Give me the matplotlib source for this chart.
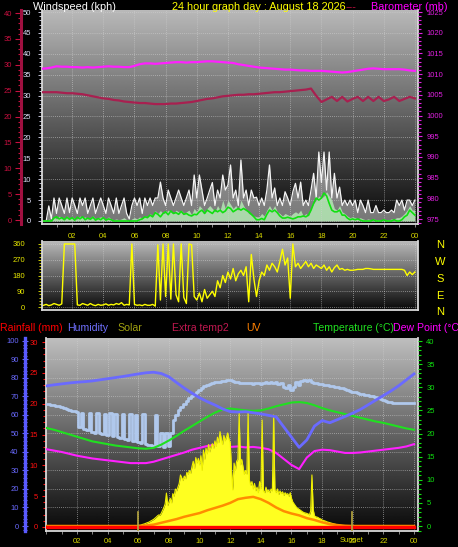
import numpy as np
import matplotlib
matplotlib.use("Agg")
import matplotlib.pyplot as plt
from matplotlib.ticker import MultipleLocator

plt.rcParams['font.family'] = ['Liberation Sans', 'DejaVu Sans']

W, H = 458, 547

# ---------------- data ----------------
# wind, 10 minute samples 00:00 .. 24:00 (kph)
wind_gust = [
    0, 0, 0, 3.6, 0.5, 5.5,  1.8, 5.5, 3.7, 1.8, 5.5, 2.0,
    5.5, 3.7, 1.8, 5.5, 3.7, 5.5,  1.8, 3.7, 5.5, 1.8, 3.7, 5.5,
    3.7, 1.8, 5.5, 3.7, 1.8, 5.5,  1.8, 3.7, 5.5, 1.8, 0.5, 3.7,
    5.5, 3.7, 5.5, 1.8, 5.5, 3.7,  5.5, 3.7, 5.5, 5.5, 9.3, 5.5,
    3.7, 7.4, 5.5, 3.7, 5.5, 7.4,  5.5, 3.7, 5.5, 7.4, 3.7, 11.0,
    5.5, 11.0, 7.4, 3.7, 5.5, 7.4,  9.2, 3.7, 7.4, 5.5, 11.0, 7.4,
    8.6, 13.4, 5.5, 7.4, 3.7, 14.6,  5.5, 7.4, 3.7, 7.4, 5.5, 5.7,
    3.7, 5.5, 3.7, 7.4, 13.4, 5.5,  7.9, 3.7, 5.5, 3.7, 7.0, 5.5,
    3.7, 7.0, 9.0, 5.5, 9.3, 3.7,  5.0, 3.7, 7.4, 11.4, 5.5, 16.5,
    9.2, 16.5, 7.4, 16.5, 5.5, 11.4,  5.5, 8.1, 3.7, 5.0, 3.7, 5.0,
    3.7, 5.0, 2.0, 5.0, 3.7, 2.0,  5.0, 2.0, 2.0, 3.7, 2.0, 2.0,
    2.6, 2.0, 2.0, 2.6, 2.0, 5.0,  3.7, 5.0, 2.6, 5.0, 5.0, 3.7,
    5.0]
wind_speed = [
    0, 0, 0, 0.5, 0, 1.0,  0.5, 1.2, 0.8, 0.5, 1.2, 0.5,
    1.0, 0.5, 0.5, 1.2, 0.8, 1.0,  0.5, 0.8, 1.2, 0.5, 0.8, 1.0,
    0.8, 0.5, 1.0, 0.5, 0.3, 0.5,  0.3, 0.5, 0.8, 0.3, 0, 0.5,
    0.8, 0.5, 1.0, 0.5, 1.2, 1.0,  1.8, 1.2, 2.5, 1.8, 2.5, 1.8,
    2.0, 2.6, 2.2, 1.8, 2.6, 2.2,  2.6, 1.8, 2.2, 2.6, 1.5, 3.0,
    2.2, 3.7, 3.0, 1.8, 3.0, 3.7,  3.0, 2.2, 3.7, 2.6, 5.0, 3.0,
    5.0, 4.0, 3.0, 3.7, 2.6, 5.0,  3.7, 2.6, 1.8, 1.5, 1.2, 1.0,
    1.0, 1.8, 1.2, 2.6, 3.7, 2.6,  3.7, 2.2, 1.8, 1.2, 1.8, 1.5,
    1.2, 1.8, 2.2, 1.8, 2.6, 1.2,  1.8, 1.2, 3.0, 4.2, 5.0, 6.0,
    5.5, 6.0, 7.0, 6.0, 5.0, 3.0,  2.6, 3.7, 2.2, 1.8, 1.2, 0.8,
    1.0, 0.8, 0.5, 0.8, 0.5, 0.3,  0.5, 0.3, 0.5, 0.3, 0.3, 0.3,
    0.5, 0.3, 0.3, 0.5, 0.5, 0.8,  0.8, 1.2, 1.8, 2.6, 3.7, 2.6,
    2.6]
wind_avg = [
    0, 0, 0, 0, 0, 0.7,  1.0, 0.5, 0.8, 0.3, 0.9, 0.4,
    0.8, 0.2, 0.9, 0.5, 1.0, 0.3,  0.7, 0.4, 0.9, 0.2, 0.6, 0.3,
    0.8, 0.2, 0.5, 0.3, 0, 0,  0, 0, 0, 0, 0, 0,
    0, 0, 0.3, 0.5, 1.0, 0.8,  1.4, 1.0, 2.0, 1.6, 1.0, 1.8,
    2.2, 1.5, 2.4, 1.8, 2.0, 1.6,  2.3, 1.6, 1.8, 1.4, 1.2, 1.6,
    1.5, 2.2, 2.6, 1.8, 2.6, 2.2,  1.8, 2.6, 2.2, 2.6, 2.0, 2.4,
    3.3, 3.0, 2.2, 2.6, 3.0, 2.6,  3.0, 2.6, 2.2, 1.6, 1.0, 0.3,
    0.3, 0.6, 0.3, 1.6, 2.6, 2.2,  2.6, 2.0, 1.2, 0.7, 0.7, 0.9,
    0.7, 0.5, 0.7, 1.0, 1.0, 1.2,  1.0, 1.4, 2.6, 4.2, 5.5, 5.0,
    5.5, 6.7, 6.0, 4.2, 2.6, 2.2,  2.2, 2.6, 1.4, 1.4, 0.7, 0.3,
    0.5, 0.3, 0.5, 0.2, 0, 0,  0, 0, 0.3, 0, 0, 0,
    0.3, 0, 0, 0, 0.3, 0,  0, 0.3, 1.0, 1.4, 2.6, 2.0,
    1.4]
wind_dir = [
    5, 10, 15, 8, 12, 20,  15, 10, 18, 360, 360, 360,
    360, 360, 12, 10, 20, 15,  10, 20, 12, 8, 15, 10,
    12, 18, 10, 15, 12, 20,  15, 25, 10, 15, 12, 360,
    15, 10, 12, 8, 15, 10,  10, 15, 5, 355, 40, 360,
    60, 360, 45, 360, 70, 30,  360, 55, 20, 360, 355, 60,
    40, 80, 30, 100, 50, 70,  90, 60, 150, 110, 180, 140,
    200, 160, 220, 150, 190, 210,  180, 230, 30, 300, 160, 60,
    150, 200, 180, 240, 210, 250,  230, 200, 260, 330, 240, 280,
    50, 360, 230, 250, 220, 240,  260, 230, 250, 220, 240, 230,
    220, 240, 210, 230, 200, 225,  240, 215, 220, 210, 215, 210,
    210, 212, 215, 215, 215, 220,  220, 218, 215, 215, 215, 215,
    215, 215, 215, 215, 215, 215,  215, 215, 210, 180, 200, 185,
    200]

# 20 minute samples
barometer = [
    1011.3, 1011.4, 1011.6, 1011.9, 1011.8, 1011.8,
    1011.7, 1011.7, 1011.6, 1011.7, 1011.6, 1011.7,
    1011.8, 1011.9, 1011.8, 1011.8, 1011.7, 1011.7,
    1012.0, 1012.4, 1012.6, 1012.6, 1012.5, 1012.6,
    1012.7, 1012.8, 1012.9, 1012.9, 1012.8, 1012.9,
    1012.9, 1013.0, 1013.1, 1013.1, 1013.0, 1012.9,
    1012.8, 1012.7, 1012.4, 1012.2, 1012.0, 1011.8,
    1011.6, 1011.5, 1011.4, 1011.3, 1011.2, 1011.1,
    1011.1, 1011.0, 1010.9, 1010.9, 1010.8, 1010.8,
    1010.8, 1010.7, 1010.6, 1010.5, 1010.4, 1010.5,
    1010.7, 1010.9, 1011.1, 1011.3, 1011.4, 1011.3,
    1011.2, 1011.2, 1011.2, 1011.2, 1011.1, 1010.9,
    1010.8]
indoor_temp = [
    24.7, 24.7, 24.7, 24.7, 24.6, 24.5,
    24.5, 24.4, 24.3, 24.1, 23.9, 23.7,
    23.5, 23.4, 23.2, 23.1, 22.9, 22.8,
    22.7, 22.6, 22.6, 22.5, 22.4, 22.4,
    22.4, 22.5, 22.5, 22.6, 22.7, 22.8,
    23.0, 23.2, 23.4, 23.5, 23.7, 23.9,
    24.0, 24.1, 24.2, 24.2, 24.3, 24.3,
    24.4, 24.5, 24.6, 24.7, 24.7, 24.8,
    24.9, 25.0, 25.1, 25.2, 25.4, 24.0,
    22.8, 23.3, 23.8, 23.0, 23.8, 22.9,
    23.4, 23.8, 23.0, 23.8, 23.0, 23.8,
    23.0, 23.3, 23.8, 23.0, 23.4, 23.8,
    23.5]

# 30 minute samples
temperature = [
    21.2, 20.8, 20.3, 19.8, 19.3, 18.8, 18.3, 18.0, 17.7, 17.4, 17.2, 17.0,
    16.8, 16.7, 16.9, 17.6, 18.5, 19.5, 20.6, 21.6, 22.6, 23.6, 24.5, 25.2,
    25.4, 25.2, 25.0, 24.9, 25.0, 25.4, 25.9, 26.3, 26.7, 26.8, 26.6, 26.1,
    25.5, 25.0, 24.6, 24.2, 23.8, 23.4, 23.0, 22.6, 22.3, 21.9, 21.5, 21.1,
    20.8]
dew_point = [
    16.6, 16.3, 16.0, 15.6, 15.2, 14.9, 14.6, 14.4, 14.2, 14.0, 13.8, 13.6,
    13.6, 13.6, 13.9, 14.4, 14.9, 15.4, 15.9, 16.5, 16.9, 17.3, 17.6, 17.4,
    17.1, 17.2, 17.0, 17.1, 16.9, 16.6, 15.8, 14.5, 13.2, 12.3, 14.8, 16.2,
    16.5, 16.4, 16.1, 15.8, 15.8, 15.9, 16.1, 16.3, 16.5, 16.7, 16.9, 17.2,
    17.7]
humidity = [
    75.7, 76.3, 76.8, 77.3, 77.7, 78.0, 78.4, 79.0, 79.6, 80.2, 80.8, 81.5,
    82.2, 82.8, 83.1, 82.4, 80.6, 77.5, 74.5, 71.8, 69.3, 67.2, 65.4, 63.3,
    61.8, 61.6, 61.8, 61.2, 60.6, 59.8, 59.0, 53.5, 48.0, 42.5, 46.5, 54.0,
    57.0, 55.8, 57.5, 59.2, 61.0, 63.0, 65.5, 68.0, 70.5, 73.0, 75.8, 79.0,
    82.2]
uv_index = [
    0, 0, 0, 0, 0, 0, 0, 0, 0, 0, 0, 0,
    0, 0.1, 0.3, 0.7, 1.1, 1.5, 2.0, 2.4, 2.8, 3.4, 3.9, 4.4,
    5.0, 5.8, 6.1, 6.3, 5.8, 5.0, 4.0, 3.2, 2.7, 2.3, 1.7, 1.3,
    0.8, 0.4, 0.2, 0.05, 0, 0, 0, 0, 0, 0, 0, 0,
    0]

# second humidity sensor, 10 minute samples
extra_hum = [
    66.0, 65.8, 65.5, 65.3, 65.0, 64.6,  64.2, 63.8, 63.4, 62.9, 62.4, 61.9,
    61.6, 53.5, 61.0, 52.5, 51.8, 61.0,  51.0, 50.5, 61.0, 50.0, 49.5, 60.5,
    49.2, 61.0, 48.5, 60.5, 48.0, 47.5,  60.5, 47.0, 46.5, 60.5, 46.0, 60.0,
    45.5, 45.0, 60.5, 44.5, 44.0, 43.8,  43.5, 60.0, 43.0, 50.3, 42.8, 50.3,
    43.5, 50.3, 57.3, 60.0, 62.5, 64.5,  66.0, 67.5, 69.0, 70.5, 71.5, 72.5,
    73.5, 74.5, 75.5, 76.3, 77.0, 77.3,  77.6, 77.8, 78.0, 78.3, 78.6, 78.8,
    78.9, 78.5, 78.0, 77.8, 77.5, 77.3,  77.5, 77.2, 77.5, 77.0, 77.3, 77.3,
    77.0, 77.5, 77.8, 77.2, 77.8, 77.5,  77.8, 76.5, 77.5, 75.1, 74.5, 76.0,
    73.5, 75.0, 77.8, 76.0, 78.5, 78.9,  78.5, 78.9, 78.0, 77.5, 77.2, 76.8,
    76.5, 76.2, 76.0, 75.8, 75.5, 75.3,  75.1, 74.8, 74.5, 74.0, 73.5, 73.0,
    72.6, 72.2, 71.8, 71.5, 71.2, 71.0,  70.8, 70.5, 70.0, 69.5, 69.0, 68.5,
    68.0, 67.5, 67.0, 66.8, 66.6, 66.5,  66.5, 66.4, 66.5, 66.6, 66.4, 66.5,
    66.5]

# solar radiation (W/m2), 5 minute samples from 06:00
solar_start = 6.0
solar = [
    2, 4, 5, 8, 10, 12, 15, 18, 20, 24, 28, 32,
    36, 42, 48, 55, 60, 58, 70, 85, 100, 120, 178, 110,
    130, 150, 125, 175, 160, 200, 190, 210, 230, 276, 260, 245,
    270, 255, 290, 280, 300, 285, 320, 350, 310, 370, 340, 365,
    330, 380, 300, 410, 360, 420, 390, 440, 400, 430, 445, 420,
    460, 430, 480, 450, 510, 470, 440, 490, 460, 480, 503, 470,
    450, 300, 195, 340, 300, 350, 360, 611, 330, 360, 320, 280,
    300, 280, 616, 250, 220, 240, 200, 230, 190, 210, 180, 240,
    200, 573, 190, 180, 210, 185, 195, 180, 200, 190, 600, 195,
    180, 200, 170, 190, 175, 185, 165, 180, 170, 175, 160, 180,
    150, 130, 120, 110, 100, 95, 90, 85, 80, 75, 72, 70,
    68, 65, 60, 80, 276, 90, 55, 50, 48, 45, 40, 38,
    32, 30, 28, 25, 22, 20, 18, 16, 14, 12, 10, 8,
    6, 5, 4, 3, 2, 1, 0]

rain_t = [0, 24]
rain_mm = [0.0, 0.0]

sunrise = 6.0
sunset = 19.95

hour_ticks = [2, 4, 6, 8, 10, 12, 14, 16, 18, 20, 22, 24]
hour_labels = ['02', '04', '06', '08', '10', '12', '14', '16', '18', '20', '22', '00']
compass = ['N', 'W', 'S', 'E', 'N']

t10 = np.arange(len(wind_gust)) / 6.0
t20 = np.arange(len(barometer)) / 3.0
t30 = np.arange(len(temperature)) / 2.0
t_solar = np.concatenate(([0.0], solar_start + np.arange(len(solar)) / 12.0, [24.0]))
solar_v = np.concatenate(([0.0], solar, [0.0]))

YELLOW = '#d8d800'


def box(x0, y0, x1, y1):
    return [x0 / W, 1 - y1 / H, (x1 - x0) / W, (y1 - y0) / H]


def gradient(ax, top, bottom):
    g = np.linspace(top, bottom, 256).reshape(-1, 1)
    ax.imshow(g, cmap='gray', vmin=0, vmax=255, aspect='auto',
              extent=(*ax.get_xlim(), *ax.get_ylim()), zorder=-10,
              interpolation='bilinear')


def frame(ax):
    ax.spines['top'].set_visible(False)
    for s in ('left', 'bottom', 'right'):
        ax.spines[s].set_color('#d8d8d8')
        ax.spines[s].set_linewidth(1.3)


def hide(ax):
    for s in ax.spines.values():
        s.set_visible(False)
    ax.tick_params(which='both', left=False, right=False, bottom=False,
                   labelleft=False, labelright=False, labelbottom=False)


def grid(ax):
    ax.grid(True, which='major', color='#d0d0d0', ls=(0, (1, 1.5)), lw=0.6, alpha=0.7)


fig = plt.figure(figsize=(W / 100, H / 100), dpi=100, facecolor='black')

# ---------------- panel 1 : wind / barometer ----------------
ax1 = fig.add_axes(box(42, 10, 418, 224))
ax1.set_xlim(0.064, 24.2)
ax1.set_ylim(-0.72, 50.48)
gradient(ax1, 185, 8)
frame(ax1)
ax1.set_xticks(hour_ticks)
ax1.set_xticklabels(hour_labels)
ax1.xaxis.set_minor_locator(MultipleLocator(1))
ax1.tick_params(axis='x', which='both', colors='#a0a0a0', length=2, width=0.6,
                labelsize=5.5, labelcolor=YELLOW, pad=4.5)
ax1.yaxis.set_major_locator(MultipleLocator(5))
ax1.yaxis.set_minor_locator(MultipleLocator(1))
ax1.tick_params(axis='y', which='both', colors='#e0e0f8', labelsize=5.5, width=0.6)
ax1.tick_params(axis='y', which='major', length=3, pad=5)
ax1.tick_params(axis='y', which='minor', length=2)
ax1.set_yticks(range(0, 51, 5))
grid(ax1)

ax1.fill_between(t10, 0, wind_gust, color='white', alpha=0.45, lw=0)
ax1.plot(t10, wind_gust, color='#f4f4f4', lw=0.9)
ax1.fill_between(t10, 0, wind_speed, color='#b8f0b8', alpha=0.8, lw=0)
ax1.plot(t10, wind_avg, color='#10e010', lw=1.2)

axr = ax1.twinx()
axr.set_ylim(-0.77, 40.58)
for s in axr.spines.values():
    s.set_visible(False)
axr.spines['left'].set_visible(True)
axr.spines['left'].set_position(('axes', (21 - 42) / 376))
axr.spines['left'].set_color('#a01040')
axr.spines['left'].set_linewidth(2.2)
axr.yaxis.set_ticks_position('left')
axr.yaxis.set_major_locator(MultipleLocator(5))
axr.yaxis.set_minor_locator(MultipleLocator(1))
axr.tick_params(axis='y', which='both', colors='#c81040', labelsize=5.5, width=0.8)
axr.tick_params(axis='y', which='major', length=4, pad=2.5)
axr.tick_params(axis='y', which='minor', length=2.5)
axr.tick_params(axis='x', bottom=False, labelbottom=False)
axr.plot(t20, indoor_temp, color='#a82050', lw=1.6)

axb = ax1.twinx()
axb.set_ylim(973.8, 1025.5)
for s in axb.spines.values():
    s.set_visible(False)
axb.yaxis.set_major_locator(MultipleLocator(5))
axb.yaxis.set_minor_locator(MultipleLocator(1))
axb.tick_params(axis='y', which='both', colors='#e020e0', labelsize=5.5, width=0.8)
axb.tick_params(axis='y', which='major', length=3, pad=3)
axb.tick_params(axis='y', which='minor', length=2)
axb.tick_params(axis='x', bottom=False, labelbottom=False)
axb.plot(t20, barometer, color='#ff20ff', lw=1.6)

fig.text(33 / W, 1 - 10 / H, 'Windspeed (kph)', color='white', fontsize=7.8, va='baseline')
fig.text(172 / W, 1 - 10 / H, '24 hour graph day : August 18 2026', color='#ffff00',
         fontsize=7.8, va='baseline')
fig.text(346 / W, 1 - 10 / H, '---', color='#c01040', fontsize=7.8, va='baseline')
fig.text(371 / W, 1 - 9.5 / H, 'Barometer (mb)', color='#ff00ff', fontsize=7.8, va='baseline')

# ---------------- panel 2 : wind direction ----------------
ax2 = fig.add_axes(box(42, 241, 418, 310))
ax2.set_xlim(0.064, 24.2)
ax2.set_ylim(-17, 377)
gradient(ax2, 185, 8)
frame(ax2)
ax2.set_xticks(hour_ticks)
ax2.tick_params(axis='x', which='both', bottom=False, labelbottom=False)
ax2.set_yticks([0, 90, 180, 270, 360])
ax2.yaxis.set_minor_locator(MultipleLocator(18))
ax2.tick_params(axis='y', which='both', colors='#e8e800', labelsize=5.5, width=0.6)
ax2.tick_params(axis='y', which='major', length=3, pad=9)
ax2.tick_params(axis='y', which='minor', length=2)
grid(ax2)
ax2.plot(t10, wind_dir, color='#ffff00', lw=1.0)

for letter, y in zip(compass, [245, 262, 279, 296, 312]):
    fig.text(440 / W, 1 - y / H, letter, color='#ffff00', fontsize=8, ha='center', va='center')

# ---------------- panel 3 : temperature / humidity / solar ----------------
ax3 = fig.add_axes(box(46, 338, 418, 531))
ax3.set_xlim(-0.03, 24.26)
ax3.set_ylim(-0.65, 30.65)
gradient(ax3, 190, 8)
frame(ax3)
ax3.set_xticks(hour_ticks)
ax3.set_xticklabels(hour_labels)
ax3.xaxis.set_minor_locator(MultipleLocator(1))
ax3.tick_params(axis='x', which='both', colors='#a0a0a0', length=2, width=0.6,
                labelsize=5.5, labelcolor=YELLOW, pad=3)
ax3.yaxis.set_major_locator(MultipleLocator(5))
ax3.yaxis.set_minor_locator(MultipleLocator(1))
ax3.tick_params(axis='y', which='both', colors='#ff1010', labelsize=5.5, width=0.8)
ax3.tick_params(axis='y', which='major', length=3, pad=3)
ax3.tick_params(axis='y', which='minor', length=2)
ax3.grid(True, which='major', axis='x', color='#d0d0d0', ls=(0, (1, 1.5)), lw=0.6, alpha=0.7)

# horizontal grid follows the humidity scale
axh2 = ax3.twinx()
axh2.set_ylim(-2.7, 101.6)
hide(axh2)
axh2.set_yticks(range(10, 100, 10))
axh2.grid(True, which='major', axis='y', color='#d0d0d0', ls=(0, (1, 1.5)), lw=0.6, alpha=0.7)
axh2.plot(np.arange(len(extra_hum)) / 6.0, extra_hum, color='#b0c8ec', lw=2.0,
          drawstyle='steps-mid')

axt = ax3.twinx()
axt.set_ylim(-1.08, 40.65)
for s in axt.spines.values():
    s.set_visible(False)
axt.yaxis.set_major_locator(MultipleLocator(5))
axt.yaxis.set_minor_locator(MultipleLocator(1))
axt.tick_params(axis='y', which='both', colors='#10e010', labelsize=5.5, width=0.8)
axt.tick_params(axis='y', which='major', length=3, pad=3)
axt.tick_params(axis='y', which='minor', length=2)
axt.tick_params(axis='x', bottom=False, labelbottom=False)
axt.plot(t30, temperature, color='#20e020', lw=1.5)
axt.plot(t30, dew_point, color='#ff20ff', lw=1.5)

axs = ax3.twinx()
axs.set_ylim(-27, 1016)
hide(axs)
axs.fill_between(t_solar, 0, solar_v, color='#ffff20', lw=0)
axs.plot(t_solar, solar_v, color='#f0f000', lw=0.8)

axu = ax3.twinx()
axu.set_ylim(-1.08, 40.65)
hide(axu)
axu.plot(t30, uv_index, color='#ff8c00', lw=1.8)

axh = ax3.twinx()
axh.set_ylim(-2.7, 101.6)
for s in axh.spines.values():
    s.set_visible(False)
axh.spines['left'].set_visible(True)
axh.spines['left'].set_position(('axes', (25 - 46) / 372))
axh.spines['left'].set_color('#5a5aff')
axh.spines['left'].set_linewidth(2.4)
axh.yaxis.set_ticks_position('left')
axh.yaxis.set_major_locator(MultipleLocator(10))
axh.yaxis.set_minor_locator(MultipleLocator(2))
axh.tick_params(axis='y', which='both', colors='#6a6aff', labelsize=5.5, width=0.8,
                direction='inout')
axh.tick_params(axis='y', which='major', length=5, pad=2)
axh.tick_params(axis='y', which='minor', length=3)
axh.tick_params(axis='x', bottom=False, labelbottom=False)
axh.plot(t30, humidity, color='#6a6aff', lw=2.0)

axrain = ax3.twinx()
axrain.set_ylim(-0.65, 30.65)
hide(axrain)
axrain.plot(rain_t, rain_mm, color='#ff0000', lw=2.4)
for ev in (sunrise, sunset):
    axrain.axvline(ev, ymin=0, ymax=0.1, color='#b8a840', lw=1.2)
axrain.text(sunset, -0.047, 'Sunset', transform=axrain.get_xaxis_transform(),
            color=YELLOW, fontsize=5.5, ha='center', va='center')

labels3 = [('Rainfall (mm)', 0, '#ff0000'), ('Humidity', 67, '#7070ff'),
           ('Solar', 117, '#a0a010'), ('Extra temp2', 172, '#c01850'),
           ('UV', 246, '#ff8000'), ('Temperature (\u00b0C)', 313, '#20e020'),
           ('Dew Point (\u00b0C)', 393, '#ff00ff')]
for txt, x, c in labels3:
    fig.text(x / W, 1 - 331 / H, txt, color=c, fontsize=7.6, va='baseline')

fig.savefig('out.png', dpi=100, facecolor='black')
